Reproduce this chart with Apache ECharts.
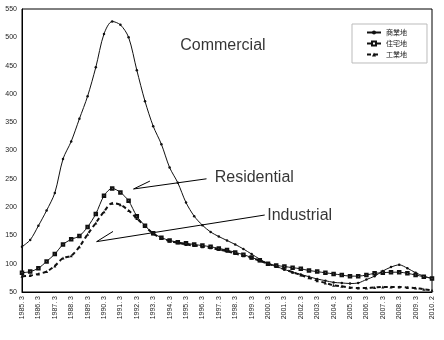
<!DOCTYPE html>
<html>
<head>
<meta charset="utf-8">
<script src="https://cdn.jsdelivr.net/npm/echarts@6/dist/echarts.min.js"></script>
<style>
html,body{margin:0;padding:0;background:#fff;}
#c{width:444px;height:340px;}
</style>
</head>
<body>
<div id="c"></div>
<script>
var categories = [
 "1985. 3","1985. 9","1986. 3","1986. 9","1987. 3","1987. 9","1988. 3","1988. 9",
 "1989. 3","1989. 9","1990. 3","1990. 9","1991. 3","1991. 9","1992. 3","1992. 9",
 "1993. 3","1993. 9","1994. 3","1994. 9","1995. 3","1995. 9","1996. 3","1996. 9",
 "1997. 3","1997. 9","1998. 3","1998. 9","1999. 3","1999. 9","2000. 3","2000. 9",
 "2001. 3","2001. 9","2002. 3","2002. 9","2003. 3","2003. 9","2004. 3","2004. 9",
 "2005. 3","2005. 9","2006. 3","2006. 9","2007. 3","2007. 9","2008. 3","2008. 9",
 "2009. 3","2009. 9","2010. 2"
];
var commercial = [
 130,142,167,194,225,285,316,356,396,447,506,528,522,500,442,387,
 343,311,270,243,208,184,168,156,148,141,134,126,117,108,100,95,
 90,85,81,77,73,70,67,66,65,66,72,78,87,94,98,92,84,78,74
];
var residential = [
 84,86,92,104,117,134,143,149,165,188,220,233,226,211,184,167,
 154,146,141,138,136,134,132,130,127,124,120,116,111,106,100,97,
 95,93,91,88,86,84,82,80,78,78,80,83,84,85,85,83,80,77,74
];
var industrial = [
 78,79,82,86,96,110,114,130,152,172,192,207,204,194,180,166,
 153,145,140,137,134,132,130,128,125,122,118,114,110,105,100,95,
 90,85,80,75,70,66,62,60,58,57,57,58,59,59,59,58,57,55,53
];
var seriesNames = ["商業地","住宅地","工業地"];
var yTicks = {min:50, max:550, interval:50};

// annotation texts and arrows, in data space (category index, value)
var noteTexts = [
 {name:"Commercial", at:[19.3,486]},
 {name:"Residential", at:[23.5,252]},
 {name:"Industrial", at:[29.9,185]}
];
var noteLines = [
 [[22.5,250],[13.6,232]], [[13.6,232],[15.6,246]],
 [[29.6,186],[9.1,139]], [[9.1,139],[11.1,157]]
];

var chart = echarts.init(document.getElementById('c'), null, {renderer:'canvas'});
var axisFont = {fontFamily:'Liberation Sans Narrow, Liberation Sans, sans-serif', fontSize:7, color:'#222'};

chart.setOption({
 animation:false,
 backgroundColor:'#fff',
 grid:{left:22,right:12,top:9,bottom:48,show:true,borderColor:'#000',borderWidth:1},
 legend:{
   orient:'vertical', left:352, top:24,
   data:seriesNames,
   borderColor:'#bbb', borderWidth:1, padding:[5,20,5,14],
   itemGap:4, itemWidth:14, itemHeight:5,
   textStyle:{fontFamily:'Noto Sans CJK JP', fontSize:7, color:'#222'}
 },
 xAxis:[{
   type:'category', data:categories, boundaryGap:false,
   axisLine:{lineStyle:{color:'#000',width:1}},
   axisTick:{show:false},
   axisLabel:Object.assign({rotate:90, interval:1, margin:4}, axisFont),
   splitLine:{show:false}
 },{
   type:'value', min:0, max:categories.length-1, show:false
 }],
 yAxis:{
   type:'value', min:yTicks.min, max:yTicks.max, interval:yTicks.interval,
   axisLine:{show:true,lineStyle:{color:'#000',width:1}},
   axisTick:{show:false},
   axisLabel:Object.assign({margin:5}, axisFont),
   splitLine:{show:false}
 },
 series:[
  {name:seriesNames[0], type:'line', data:commercial, smooth:0.3,
   symbol:'circle', symbolSize:2.5, showSymbol:true,
   itemStyle:{color:'#111'}, lineStyle:{color:'#111',width:1}},
  {name:seriesNames[1], type:'line', data:residential, smooth:0.3,
   symbol:'emptyRect', symbolSize:2.5,
   itemStyle:{color:'#111',borderWidth:0.8}, lineStyle:{color:'#111',width:1}},
  {name:seriesNames[2], type:'line', data:industrial, smooth:0.3,
   symbol:'triangle', symbolSize:3,
   itemStyle:{color:'#111'}, lineStyle:{color:'#111',width:2,type:[4,3]}},
  {name:'notes', type:'scatter', xAxisIndex:1, symbolSize:0, silent:true,
   data:noteTexts.map(function(t){return {name:t.name, value:t.at};}),
   label:{show:true, position:'right', distance:0, formatter:'{b}',
     fontFamily:'Liberation Sans, Arial, sans-serif', fontSize:16, color:'#000'}},
  {name:'arrows', type:'lines', coordinateSystem:'cartesian2d', xAxisIndex:1, silent:true,
   data:noteLines.map(function(s){return {coords:s};}),
   lineStyle:{color:'#000', width:1, opacity:1}}
 ]
});
</script>
</body>
</html>
